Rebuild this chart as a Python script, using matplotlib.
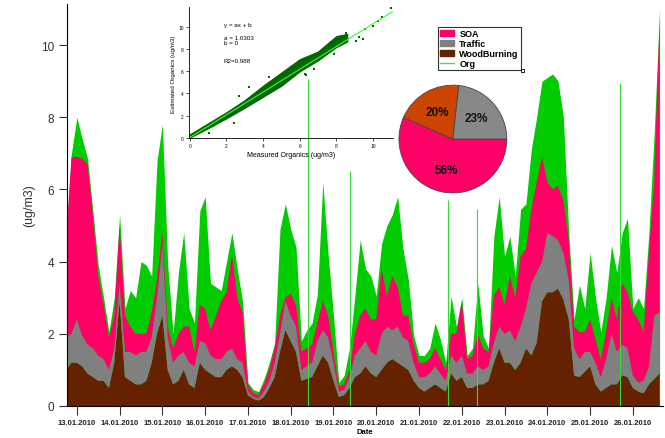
import matplotlib
matplotlib.use("Agg")
import matplotlib.pyplot as plt
import matplotlib.dates as mdates
import numpy as np
import pandas as pd
from matplotlib.patches import Patch, Rectangle
from matplotlib.lines import Line2D

plt.rcParams['font.family'] = ['Liberation Sans', 'DejaVu Sans']

# 3-hourly values (ug/m3)
times = pd.date_range("2010-01-12 18:00", periods=112, freq="3h")
wood = [1.0, 1.2, 1.2, 1.1, 0.9, 0.8, 0.7, 0.7, 0.5, 1.2, 2.9, 0.8, 0.7, 0.6, 0.6, 0.7,
        1.2, 2.0, 2.5, 1.0, 0.6, 0.7, 1.0, 0.6, 0.5, 1.2, 1.0, 0.9, 0.8, 0.8, 1.0, 1.1,
        1.0, 0.8, 0.3, 0.2, 0.15, 0.25, 0.5, 0.8, 1.5, 2.1, 1.8, 1.5, 0.7, 0.75, 0.8, 1.1,
        1.4, 1.2, 0.7, 0.25, 0.3, 0.5, 0.8, 0.9, 1.1, 0.9, 0.8, 1.0, 1.2, 1.3, 1.2, 1.1,
        1.0, 0.7, 0.5, 0.4, 0.5, 0.6, 0.5, 0.4, 0.9, 0.7, 0.8, 0.5, 0.5, 0.6, 0.6, 0.7,
        1.2, 1.6, 1.2, 1.2, 1.0, 1.2, 1.6, 1.4, 1.75, 2.9, 3.15, 3.15, 3.25, 2.95, 2.4, 0.85,
        0.8, 0.95, 1.1, 0.6, 0.4, 0.5, 0.6, 0.6, 0.85, 0.8, 0.5, 0.4, 0.35, 0.6, 0.75, 0.9]
traffic = [0.9, 0.8, 1.2, 0.85, 0.8, 0.8, 0.7, 0.6, 0.5, 0.4, 0.5, 0.7, 0.8, 0.8, 0.9, 0.8,
           0.7, 1.0, 2.0, 0.9, 0.6, 0.7, 0.5, 0.6, 0.6, 0.6, 0.75, 0.5, 0.5, 0.5, 0.5, 0.5,
           0.3, 0.4, 0.1, 0.05, 0.05, 0.15, 0.2, 0.4, 0.5, 0.8, 0.7, 0.7, 0.3, 0.35, 0.4, 0.7,
           0.7, 0.7, 0.5, 0.15, 0.15, 0.3, 0.6, 0.7, 0.7, 0.6, 0.6, 1.0, 1.0, 0.8, 1.0, 0.8,
           0.8, 0.5, 0.3, 0.4, 0.4, 0.5, 0.4, 0.3, 0.5, 0.5, 0.6, 0.4, 0.4, 0.5, 0.4, 0.4,
           0.55, 0.6, 0.8, 0.9, 0.8, 1.0, 1.1, 2.0, 1.95, 1.1, 1.65, 1.55, 1.35, 1.3, 1.1, 0.75,
           0.5, 0.55, 0.4, 0.6, 0.4, 0.8, 1.4, 0.9, 0.85, 0.8, 0.35, 0.25, 0.35, 0.5, 1.75, 1.7]
soa = [2.7, 4.9, 4.5, 4.9, 5.0, 3.7, 2.2, 1.5, 0.9, 0.9, 1.6, 1.0, 0.7, 0.6, 0.5, 0.5,
       0.7, 0.5, 0.3, 0.3, 0.4, 0.6, 0.7, 1.0, 0.4, 1.0, 0.95, 0.7, 1.2, 1.6, 1.65, 2.6,
       1.7, 1.4, 0.2, 0.1, 0.1, 0.2, 0.3, 0.4, 0.5, 0.1, 0.6, 0.6, 0.5, 0.5, 0.5, 0.5,
       0.8, 0.6, 0.3, 0.15, 0.15, 0.2, 0.6, 0.9, 0.9, 0.9, 1.0, 1.8, 0.85, 1.5, 1.1, 0.6,
       0.7, 0.5, 0.4, 0.4, 0.4, 0.5, 0.4, 0.3, 0.6, 0.8, 1.5, 0.4, 0.5, 0.9, 0.6, 0.4,
       1.3, 1.1, 0.8, 1.5, 1.2, 1.95, 1.65, 2.05, 2.5, 2.9, 1.4, 1.3, 1.5, 1.45, 1.1, 0.6,
       0.75, 0.55, 0.9, 0.65, 0.5, 0.75, 1.0, 0.9, 1.7, 1.55, 1.75, 1.75, 1.35, 3.15, 3.7, 8.1]
org = [4.8, 7.0, 8.0, 7.4, 6.85, 5.4, 3.9, 3.0, 2.05, 3.0, 5.3, 2.7, 3.2, 3.0, 4.0, 3.9,
       3.6, 6.8, 7.8, 3.9, 2.0, 3.7, 4.8, 2.7, 2.3, 5.4, 5.8, 3.4, 3.3, 3.2, 4.0, 4.8,
       3.8, 2.9, 0.65, 0.45, 0.4, 0.75, 1.2, 1.75, 4.9, 5.6, 4.9, 4.4, 1.8, 2.1, 2.3, 3.1,
       6.2, 4.2, 2.5, 0.65, 0.85, 1.6, 3.05, 4.6, 3.8, 3.6, 3.05, 4.5, 5.0, 5.3, 5.8, 4.35,
       3.5, 1.95, 1.4, 1.4, 1.6, 2.3, 1.85, 1.2, 3.05, 2.2, 3.0, 1.4, 1.6, 3.4, 1.95, 1.6,
       4.7, 5.8, 4.15, 4.7, 3.6, 5.45, 5.6, 7.1, 8.0, 9.0, 9.1, 9.2, 9.0, 8.0, 4.8, 2.4,
       3.35, 2.7, 4.25, 3.0, 2.05, 3.0, 4.45, 3.7, 4.8, 5.2, 2.7, 3.0, 2.7, 4.8, 7.6, 11.0]

# short Org spikes
spike_times = pd.to_datetime(["2010-01-18 09:40", "2010-01-19 09:20", "2010-01-21 16:20",
                              "2010-01-22 08:40", "2010-01-25 17:00"])
spike_vals = [9.05, 6.5, 5.7, 5.45, 8.95]

# pie shares (%)
pie_labels = ["SOA", "WoodBurning", "Traffic"]
pie_shares = [56, 20, 23]

# scatter inset: envelope of the dense cloud and a few loose points
band_meas = [0.0, 1.0, 2.0, 3.0, 4.0, 5.0, 6.0, 7.0, 8.0, 8.6]
band_low = [0.0, 0.85, 1.75, 2.7, 3.7, 4.7, 6.0, 7.0, 8.2, 8.7]
band_high = [0.3, 1.3, 2.3, 3.4, 4.7, 5.9, 7.1, 7.8, 9.2, 9.4]
loose_meas = [1.07, 2.71, 3.26, 2.44, 6.27, 6.81, 7.9, 8.27, 8.54, 9.45, 9.55, 10.0,
              10.5, 10.97, 10.27, 4.35, 9.09, 9.23, 6.36, 0.16]
loose_est = [0.39, 3.74, 4.58, 1.29, 5.78, 6.23, 7.57, 8.77, 9.52, 8.92, 9.82, 10.12,
             10.96, 11.7, 10.57, 5.48, 8.77, 9.07, 5.63, 0.15]
fit_a = 1.0303
fit_b = 0.0
fit_x = [0.0, 11.1]

c_soa = "#ff0066"
c_traffic = "#808080"
c_wood = "#662200"
c_org = "#00cc00"

fig = plt.figure(figsize=(6.65, 4.39), dpi=100)
ax = fig.add_axes([0.1008, 0.0729, 0.896, 0.916])

ax.fill_between(times, 0, org, color=c_org, lw=0)
ax.stackplot(times, wood, traffic, soa, colors=[c_wood, c_traffic, c_soa], lw=0)
ax.vlines(spike_times, 0, spike_vals, color="#33dd33", lw=0.8)

ax.set_xlim(pd.Timestamp("2010-01-12 18:30"), pd.Timestamp("2010-01-26 16:50"))
ax.set_ylim(0, 11.14)
ax.set_yticks([0, 2, 4, 6, 8, 10])
ax.xaxis.set_major_locator(mdates.DayLocator())
ax.xaxis.set_major_formatter(mdates.DateFormatter("%d.%m.%Y"))
ax.spines["top"].set_visible(False)
ax.spines["right"].set_visible(False)
ax.tick_params(axis="y", labelsize=8.5, length=6, colors="#333333", labelcolor="#333333")
ax.tick_params(axis="x", labelsize=5.5, length=6.5, pad=3, colors="#333333", labelcolor="#222222")
for lab in ax.get_xticklabels():
    lab.set_fontweight("bold")
ax.set_ylabel("(ug/m3)", fontsize=9, color="#333333", labelpad=4)
ax.set_xlabel("Date", fontsize=5.5, labelpad=1, fontweight="bold")

# scatter inset
ins = fig.add_axes([0.284, 0.683, 0.307, 0.298])
ins.patch.set_alpha(0)
ins.fill_between(band_meas, band_low, band_high, color="#006600", lw=0.8, edgecolor="#006600")
ins.scatter(loose_meas, loose_est, s=3, marker="s", color="#006600", lw=0)
ins.plot(fit_x, [fit_a * v + fit_b for v in fit_x], color="#33ff33", lw=0.8)
ins.set_xlim(-0.05, 11.1)
ins.set_ylim(-0.05, 11.8)
ins.set_xticks([0, 2, 4, 6, 8, 10])
ins.set_yticks([0, 2, 4, 6, 8, 10])
ins.spines["top"].set_visible(False)
ins.spines["right"].set_visible(False)
ins.tick_params(labelsize=3.5, length=2, width=0.5, pad=1.5)
for s in ins.spines.values():
    s.set_linewidth(0.6)
ins.set_xlabel("Measured Organics (ug/m3)", fontsize=5, labelpad=2)
ins.set_ylabel("Estimated Organics (ug/m3)", fontsize=4.5, labelpad=2)
ins.text(0.17, 0.86, "y = ax + b", transform=ins.transAxes, fontsize=4.5)
ins.text(0.17, 0.72, "a = 1.0303\nb = 0", transform=ins.transAxes, fontsize=4.5,
         linespacing=1.1)
ins.text(0.17, 0.58, "R2=0.988", transform=ins.transAxes, fontsize=4.5)

# pie
pax = fig.add_axes([0.599, 0.557, 0.164, 0.248])
wedges, _ = pax.pie(pie_shares, colors=[c_soa, "#cc4400", "#888888"], startangle=0,
                    counterclock=False,
                    wedgeprops=dict(edgecolor="#444444", linewidth=0.6))
for w, v in zip(wedges, pie_shares):
    ang = np.deg2rad((w.theta1 + w.theta2) / 2)
    pax.text(0.58 * np.cos(ang), 0.58 * np.sin(ang), f"{v}%", ha="center", va="center",
             fontsize=8.5, fontweight="bold", color="#111111")
pax.set_xlim(-1.01, 1.01)
pax.set_ylim(-1.01, 1.01)
pax.set_aspect("equal")

# legend
handles = [Patch(color=c_soa), Patch(color=c_traffic), Patch(color=c_wood),
           Line2D([0], [0], color="#33ee33", lw=1)]
leg = fig.legend(handles, ["SOA", "Traffic", "WoodBurning", "Org"],
                 loc="upper left", bbox_to_anchor=(0.652, 0.946), fontsize=6.5,
                 frameon=True, fancybox=False, edgecolor="black", borderpad=0.25,
                 labelspacing=0.1, handlelength=1.5, handleheight=0.7, handletextpad=0.6)
leg.get_frame().set_linewidth(0.8)
for t in leg.get_texts():
    t.set_fontweight("bold")
fig.patches.append(Rectangle((0.783, 0.833), 0.005, 0.008, transform=fig.transFigure,
                             fill=False, edgecolor="black", lw=0.6))

fig.savefig("out.png", dpi=100)
